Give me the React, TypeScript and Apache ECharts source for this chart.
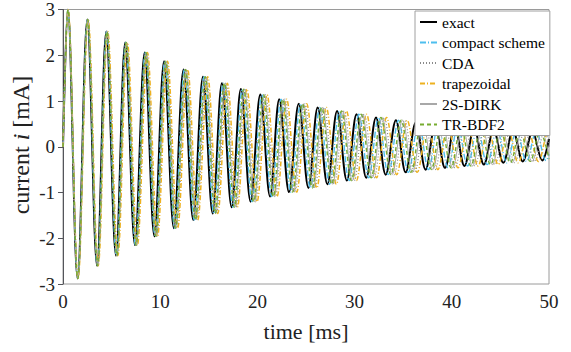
import React, { useEffect, useRef } from "react";
import * as echarts from "echarts";

// Extremum values (peak, trough, peak, ...)
const extremaValues = [
  3.0, -2.88, 2.78, -2.6, 2.52, -2.38, 2.28, -2.15, 2.06, -1.96,
  1.87, -1.78, 1.69, -1.6, 1.53, -1.46, 1.39, -1.32, 1.26, -1.2,
  1.14, -1.09, 1.04, -0.99, 0.94, -0.9, 0.86, -0.82, 0.78, -0.74,
  0.71, -0.68, 0.64, -0.61, 0.58, -0.56, 0.53, -0.5, 0.48, -0.46,
  0.44, -0.42, 0.41, -0.39, 0.37, -0.35, 0.35, -0.32, 0.33, -0.3,
];

// Extremum times [ms] for each curve
const exactTimes = [
  0.5, 1.5, 2.5, 3.5, 4.45, 5.45, 6.4, 7.4, 8.4, 9.4,
  10.4, 11.4, 12.4, 13.4, 14.4, 15.4, 16.35, 17.35, 18.3, 19.3,
  20.3, 21.3, 22.25, 23.25, 24.25, 25.25, 26.2, 27.2, 28.2, 29.2,
  30.2, 31.2, 32.2, 33.2, 34.25, 35.25, 36.3, 37.3, 38.3, 39.3,
  40.3, 41.3, 42.3, 43.3, 44.3, 45.3, 46.3, 47.3, 48.3, 49.3,
];
const compactTimes = [
  0.5, 1.51, 2.52, 3.53, 4.49, 5.49, 6.45, 7.46, 8.47, 9.48,
  10.48, 11.49, 12.5, 13.51, 14.52, 15.52, 16.48, 17.49, 18.45, 19.45,
  20.46, 21.47, 22.43, 23.44, 24.44, 25.45, 26.41, 27.42, 28.43, 29.43,
  30.44, 31.45, 32.46, 33.47, 34.52, 35.53, 36.59, 37.6, 38.61, 39.61,
  40.62, 41.63, 42.64, 43.65, 44.65, 45.66, 46.67, 47.68, 48.69, 49.69,
];
const cdaTimes = [
  0.51, 1.54, 2.57, 3.59, 4.57, 5.59, 6.57, 7.59, 8.62, 9.64,
  10.67, 11.7, 12.72, 13.75, 14.77, 15.8, 16.78, 17.8, 18.78, 19.8,
  20.83, 21.85, 22.83, 23.85, 24.88, 25.91, 26.88, 27.91, 28.93, 29.96,
  30.99, 32.01, 33.04, 34.06, 35.14, 36.17, 37.24, 38.27, 39.3, 40.32,
  41.35, 42.37, 43.4, 44.43, 45.45, 46.48, 47.5, 48.53, 49.56,
];
const trapTimes = [
  0.52, 1.55, 2.59, 3.62, 4.6, 5.64, 6.62, 7.65, 8.69, 9.72,
  10.75, 11.79, 12.82, 13.86, 14.89, 15.92, 16.91, 17.94, 18.92, 19.96,
  20.99, 22.02, 23.01, 24.04, 25.07, 26.11, 27.09, 28.12, 29.16, 30.19,
  31.23, 32.26, 33.29, 34.33, 35.41, 36.45, 37.53, 38.57, 39.6, 40.64,
  41.67, 42.7, 43.74, 44.77, 45.81, 46.84, 47.87, 48.91, 49.94,
];
const dirkTimes = [
  0.51, 1.53, 2.55, 3.57, 4.54, 5.56, 6.53, 7.55, 8.57, 9.59,
  10.61, 11.63, 12.65, 13.67, 14.69, 15.71, 16.68, 17.7, 18.67, 19.69,
  20.71, 21.73, 22.7, 23.72, 24.74, 25.76, 26.72, 27.74, 28.76, 29.78,
  30.8, 31.82, 32.84, 33.86, 34.94, 35.96, 37.03, 38.05, 39.07, 40.09,
  41.11, 42.13, 43.15, 44.17, 45.19, 46.21, 47.23, 48.25, 49.27,
];
const bdfTimes = [
  0.51, 1.52, 2.54, 3.56, 4.52, 5.54, 6.5, 7.52, 8.53, 9.55,
  10.57, 11.58, 12.6, 13.61, 14.63, 15.65, 16.61, 17.63, 18.59, 19.61,
  20.62, 21.64, 22.61, 23.62, 24.64, 25.65, 26.62, 27.64, 28.65, 29.67,
  30.68, 31.7, 32.72, 33.73, 34.8, 35.81, 36.88, 37.9, 38.91, 39.93,
  40.94, 41.96, 42.98, 43.99, 45.01, 46.02, 47.04, 48.06, 49.07,
];
// value of each curve at t = 50 ms
const endValues = {
  exact: 0.17,
  compact: -0.16,
  cda: 0.06,
  trap: 0.3,
  dirk: -0.2,
  bdf: -0.27,
};

const legendNames = ["exact", "compact scheme", "CDA", "trapezoidal", "2S-DIRK", "TR-BDF2"];

const FONT = "Times New Roman";

function build(times: number[], endV: number): number[][] {
  const pts: number[][] = [[0, 0]];
  times.forEach((t, i) => pts.push([t, extremaValues[i]]));
  pts.push([50, endV]);
  return pts;
}

export default function App() {
  const ref = useRef<HTMLDivElement>(null);
  useEffect(() => {
    if (!ref.current) return;
    const chart = echarts.init(ref.current, undefined, { renderer: "svg" });
    const mk = (name: string, data: number[][], color: string, width: number, type: any) => ({
      name,
      type: "line",
      data,
      smooth: 0.36,
      showSymbol: false,
      symbol: "none",
      lineStyle: { color, width, type },
      itemStyle: { color },
    });
    const frameColor = "#9a9a9a";
    chart.setOption({
      animation: false,
      grid: {
        left: 63, right: 22, top: 6, bottom: 68,
        show: true, borderColor: frameColor, borderWidth: 1, backgroundColor: "transparent",
      },
      legend: {
        orient: "vertical",
        left: 415,
        top: 11,
        padding: [3, 5, 3, 4],
        itemWidth: 17,
        itemHeight: 12,
        itemGap: 4.5,
        backgroundColor: "#fff",
        borderColor: "#a0a0a0",
        borderWidth: 1,
        borderRadius: 0,
        itemStyle: { opacity: 0 },
        formatter: "{s|{name}}",
        textStyle: {
          fontFamily: FONT,
          fontSize: 15.5,
          color: "#000",
          rich: { s: { fontFamily: FONT, fontSize: 15.5, color: "#000" } },
        },
        data: legendNames,
      },
      graphic: [
        {
          type: "text",
          x: 306,
          y: 331,
          style: {
            text: "time [ms]",
            fontFamily: FONT,
            fontSize: 22,
            fill: "#222",
            textAlign: "center",
            textVerticalAlign: "middle",
          },
        },
        {
          type: "text",
          x: 21,
          y: 145,
          rotation: Math.PI / 2,
          style: {
            text: "{a|current }{b|i}{a| [mA]}",
            rich: {
              a: { fontFamily: FONT, fontSize: 24, fill: "#222" },
              b: { fontFamily: FONT, fontSize: 24, fill: "#222", fontStyle: "italic" },
            },
            textAlign: "center",
            textVerticalAlign: "middle",
          },
        },
      ],
      xAxis: {
        type: "value",
        min: 0,
        max: 50,
        interval: 10,
        axisLine: { show: false },
        axisTick: { show: true, inside: true, length: 5, lineStyle: { color: frameColor } },
        axisLabel: { fontFamily: FONT, fontSize: 19, color: "#222" },
        splitLine: { show: false },
      },
      yAxis: {
        type: "value",
        min: -3,
        max: 3,
        interval: 1,
        axisLabel: { fontFamily: FONT, fontSize: 19, color: "#222" },
        splitLine: { show: false },
      },
      series: [
        mk("exact", build(exactTimes, endValues.exact), "#000000", 2, "solid"),
        mk("compact scheme", build(compactTimes, endValues.compact), "#4DBEEE", 1.4, [6, 2, 1, 2]),
        mk("CDA", build(cdaTimes, endValues.cda), "#8a8a8a", 1.2, [1, 2]),
        mk("trapezoidal", build(trapTimes, endValues.trap), "#EDB120", 1.5, [5, 2, 1, 2]),
        mk("2S-DIRK", build(dirkTimes, endValues.dirk), "#a8a8a8", 1, "solid"),
        mk("TR-BDF2", build(bdfTimes, endValues.bdf), "#77AC30", 1.4, [4, 3]),
      ],
    });
    return () => chart.dispose();
  }, []);
  return <div ref={ref} style={{ width: 571, height: 352, position: "absolute", left: 0, top: 0 }} />;
}
